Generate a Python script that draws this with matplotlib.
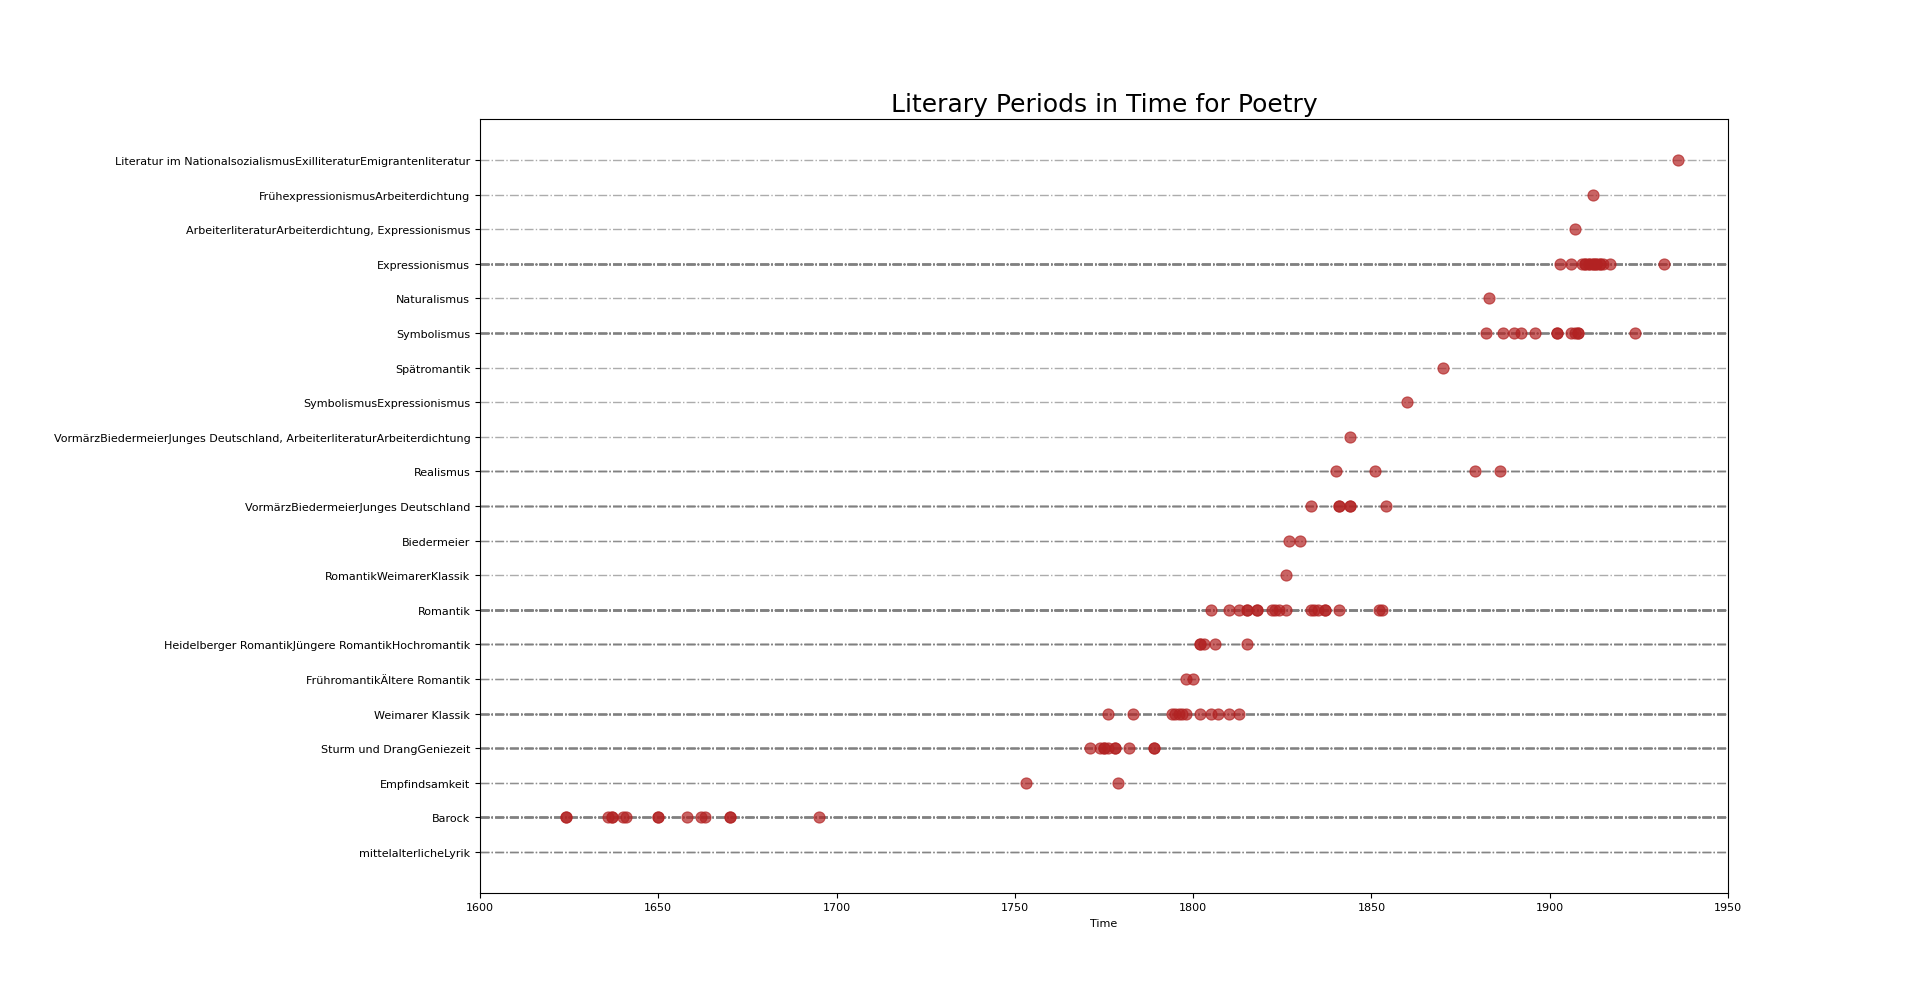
import matplotlib
matplotlib.use("Agg")
import matplotlib.pyplot as plt

periods = [
    "mittelalterlicheLyrik",
    "Barock",
    "Empfindsamkeit",
    "Sturm und DrangGeniezeit",
    "Weimarer Klassik",
    "FrühromantikÄltere Romantik",
    "Heidelberger RomantikJüngere RomantikHochromantik",
    "Romantik",
    "RomantikWeimarerKlassik",
    "Biedermeier",
    "VormärzBiedermeierJunges Deutschland",
    "Realismus",
    "VormärzBiedermeierJunges Deutschland, ArbeiterliteraturArbeiterdichtung",
    "SymbolismusExpressionismus",
    "Spätromantik",
    "Symbolismus",
    "Naturalismus",
    "Expressionismus",
    "ArbeiterliteraturArbeiterdichtung, Expressionismus",
    "FrühexpressionismusArbeiterdichtung",
    "Literatur im NationalsozialismusExilliteraturEmigrantenliteratur",
]

years_mittelalter = [1200, 1220, 1250]
years_barock = [1624, 1624, 1636, 1637, 1637, 1640, 1641, 1650, 1650, 1658, 1662, 1663, 1670, 1670, 1695]
years_empfindsamkeit = [1753, 1779]
years_sturm = [1771, 1774, 1775, 1775, 1776, 1778, 1778, 1782, 1789, 1789]
years_weimarer = [1776, 1783, 1794, 1795, 1796, 1797, 1798, 1802, 1805, 1807, 1810, 1813]
years_fruehromantik = [1798, 1800]
years_heidelberger = [1802, 1802, 1803, 1806, 1815]
years_romantik = [1805, 1810, 1813, 1815, 1815, 1818, 1818, 1822, 1823, 1824, 1826,
                  1833, 1834, 1835, 1837, 1837, 1841, 1852, 1853]
years_romantik_weimarer = [1826]
years_biedermeier = [1827, 1830]
years_vormaerz = [1833, 1841, 1841, 1844, 1844, 1854]
years_realismus = [1840, 1851, 1879, 1886]
years_vormaerz_arbeiter = [1844]
years_symb_expr = [1860]
years_spaetromantik = [1870]
years_symbolismus = [1882, 1887, 1890, 1892, 1896, 1902, 1902, 1906, 1907, 1908, 1908, 1924]
years_naturalismus = [1883]
years_expressionismus = [1903, 1906, 1909, 1910, 1910, 1911, 1911, 1912, 1912, 1913, 1913,
                         1914, 1914, 1915, 1917, 1932]
years_arbeiter_expr = [1907]
years_fruehexpr = [1912]
years_ns = [1936]

all_years = [
    years_mittelalter, years_barock, years_empfindsamkeit, years_sturm, years_weimarer,
    years_fruehromantik, years_heidelberger, years_romantik, years_romantik_weimarer,
    years_biedermeier, years_vormaerz, years_realismus, years_vormaerz_arbeiter,
    years_symb_expr, years_spaetromantik, years_symbolismus, years_naturalismus,
    years_expressionismus, years_arbeiter_expr, years_fruehexpr, years_ns,
]

fig = plt.figure(figsize=(19.2, 10.04), dpi=100)
ax = fig.add_axes([0.25, 0.11, 0.65, 0.77])

for i, ys in enumerate(all_years):
    for yr in ys:
        ax.axhline(i, linestyle='-.', color='gray', alpha=0.65, linewidth=1, zorder=1)
    ax.scatter(ys, [i] * len(ys), s=64, color='firebrick', alpha=0.7,
               edgecolors='firebrick', linewidths=0.8, zorder=2)

ax.set_xlim(1600, 1950)
ax.set_ylim(-1.17, len(periods) - 1 + 1.17)
ax.set_yticks(range(len(periods)))
ax.set_yticklabels(periods, fontsize=8)
ax.tick_params(axis='x', labelsize=8)
ax.set_xlabel("Time", fontsize=8)
ax.set_title("Literary Periods in Time for Poetry", fontsize=18)

fig.savefig("out.png", dpi=100)
